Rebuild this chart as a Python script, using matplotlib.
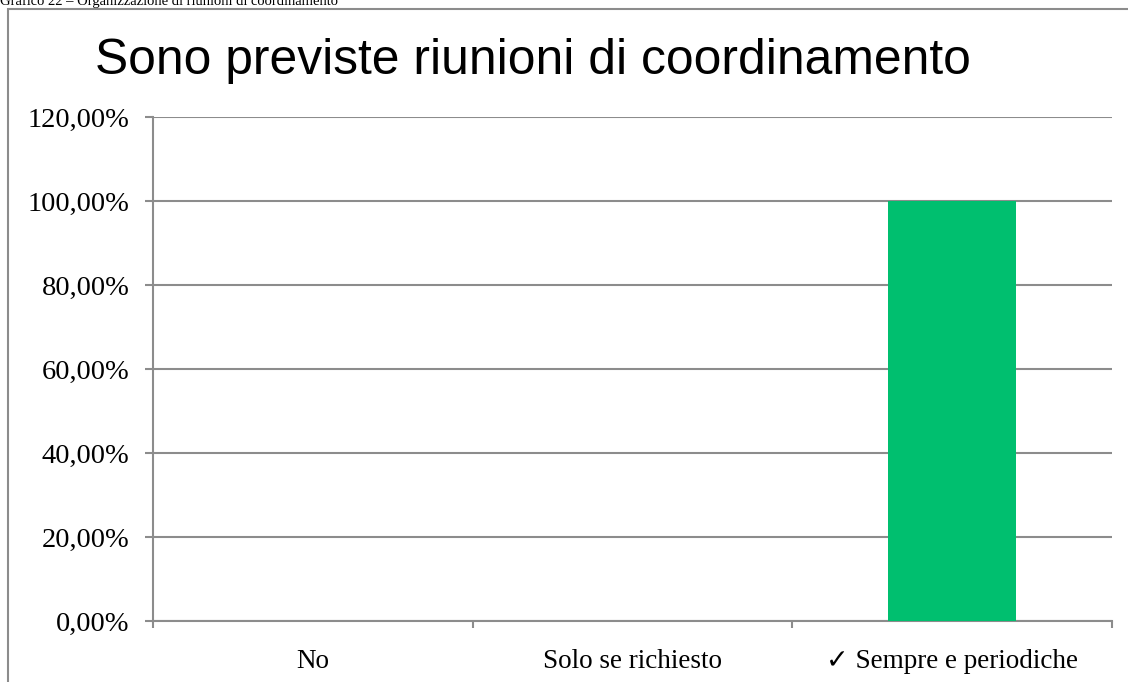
import matplotlib.pyplot as plt
import matplotlib.patches as mpatches
from matplotlib.ticker import FixedLocator

# data
categories = ['No', 'Solo se richiesto', '✓ Sempre e periodiche']
values = [0.0, 0.0, 100.0]
yticks = [0, 20, 40, 60, 80, 100, 120]
ytick_labels = ['0,00%', '20,00%', '40,00%', '60,00%', '80,00%', '100,00%', '120,00%']

title = 'Sono previste riunioni di coordinamento'
caption = 'Grafico 22 \u2013 Organizzazione di riunioni di coordinamento'

gray = '#8c8c8c'
serif = ['Liberation Serif', 'DejaVu Serif', 'DejaVu Sans']

fig = plt.figure(figsize=(11.28, 6.82), dpi=100)

# outer frame, cut on right and bottom like the screenshot
frame = mpatches.Rectangle((8 / 1128, -0.05), 1.2, 1 - 9 / 682 + 0.05,
                           transform=fig.transFigure, fill=False,
                           edgecolor=gray, linewidth=1.5)
fig.patches.append(frame)

# caption, cut at the top edge as in the source page
fig.text(0.0, 1 - 5 / 682, caption, family=serif, fontsize=10.5,
         va='baseline', ha='left', color='black')

ax = fig.add_axes([153 / 1128, 1 - 621 / 682, (1112 - 153) / 1128, (621 - 117) / 682])

x = list(range(len(categories)))
ax.bar(x, values, width=0.40, color='#00bf6f', zorder=3)

ax.set_xlim(-0.5, len(categories) - 0.5)
ax.set_ylim(0, 120)

ax.set_yticks(yticks)
ax.set_yticklabels(ytick_labels, family=serif, fontsize=20.5)
ax.yaxis.grid(True, color=gray, linewidth=1.5, zorder=0)
ax.tick_params(axis='y', length=6, width=1.5, color=gray, pad=11)

ax.set_xticks(x)
ax.set_xticklabels(categories, family=serif, fontsize=19.5)
ax.tick_params(axis='x', which='major', length=0, pad=20)
ax.xaxis.set_minor_locator(FixedLocator([-0.5, 0.5, 1.5, 2.5]))
ax.tick_params(axis='x', which='minor', length=5, width=1.5, color=gray)

for s in ['top', 'right']:
    ax.spines[s].set_visible(False)
for s in ['left', 'bottom']:
    ax.spines[s].set_color(gray)
    ax.spines[s].set_linewidth(1.5)

fig.text(533 / 1128, 1 - 74 / 682, title, family=['Liberation Sans', 'DejaVu Sans'],
         fontsize=35.8, ha='center', va='baseline')

fig.savefig('out.png', dpi=100)
